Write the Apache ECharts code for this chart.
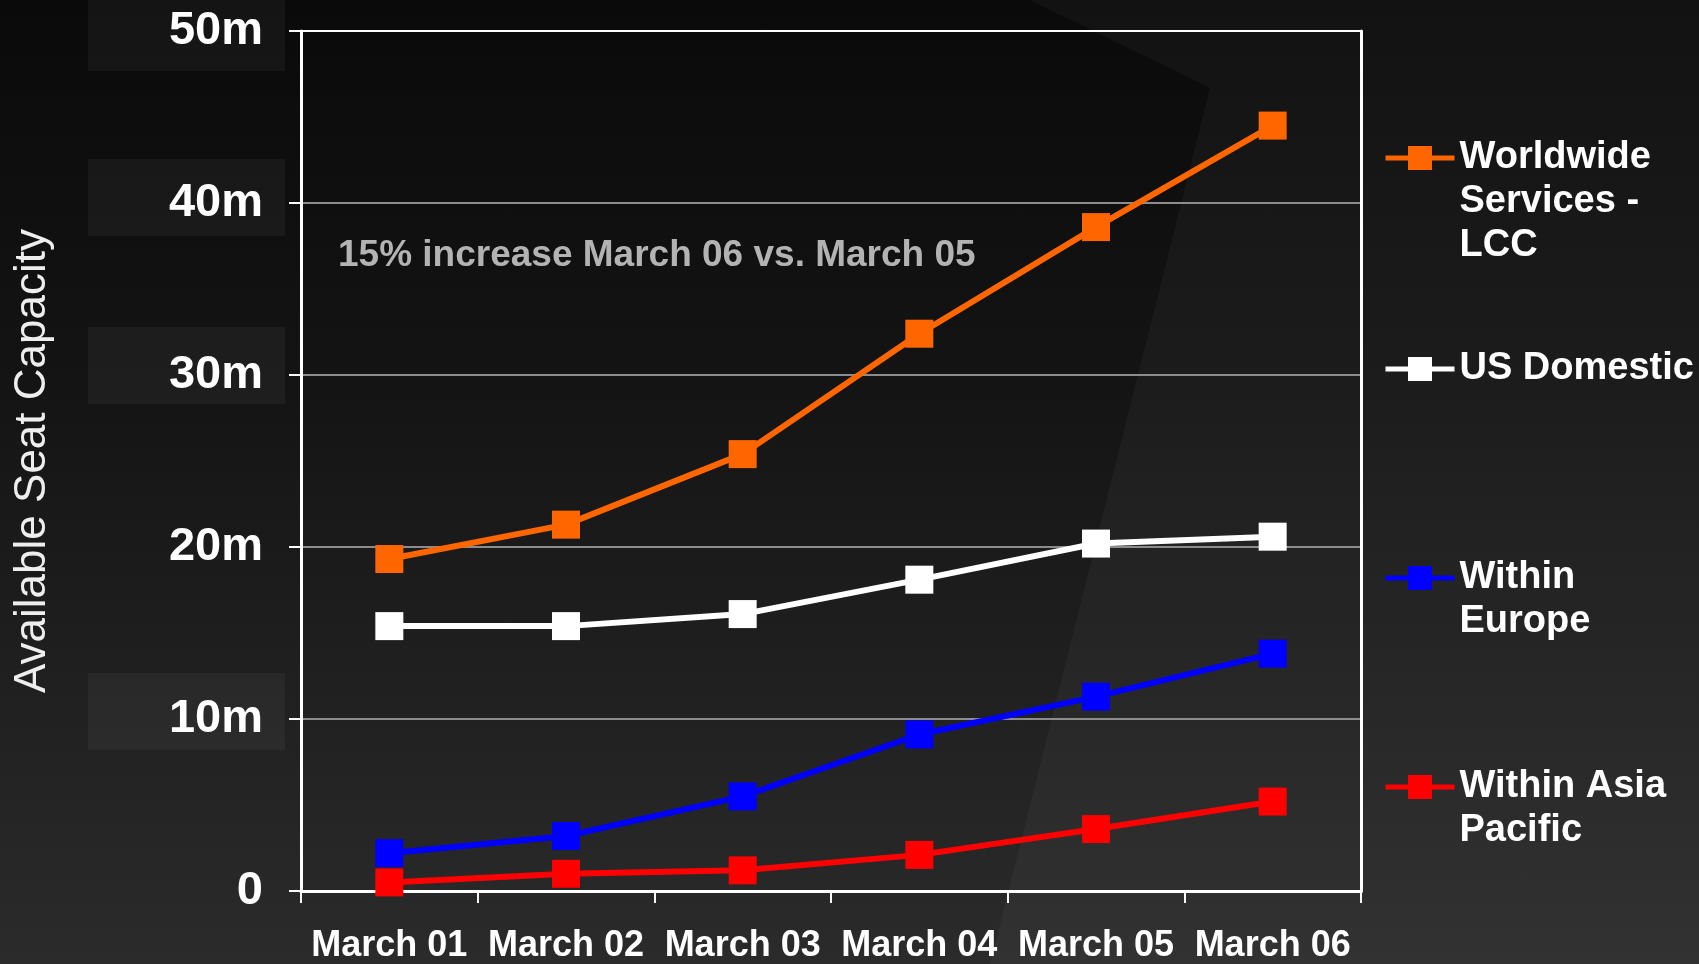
<!DOCTYPE html>
<html>
<head>
<meta charset="utf-8">
<script src="https://cdn.jsdelivr.net/npm/echarts@6/dist/echarts.min.js"></script>
<style>
html,body{margin:0;padding:0;width:1699px;height:964px;overflow:hidden;}
#bg{position:absolute;left:0;top:0;width:1699px;height:964px;background:linear-gradient(180deg,#0a0a0a 0%,#141414 40%,#2b2b2b 100%);}
#shape{position:absolute;left:0;top:0;width:1699px;height:964px;background:rgba(255,255,255,0.035);clip-path:polygon(1030px 0px,1210px 88px,990px 964px,1699px 964px,1699px 0px);}
.lb{position:absolute;left:88px;width:197px;background:rgba(255,255,255,0.045);}
#chart{position:absolute;left:0;top:0;width:1699px;height:964px;}
</style>
</head>
<body>
<div id="bg"></div>
<div id="shape"></div>
<div class="lb" style="top:0px;height:71px"></div>
<div class="lb" style="top:159px;height:77px"></div>
<div class="lb" style="top:327px;height:77px"></div>
<div class="lb" style="top:673px;height:77px"></div>
<div id="chart"></div>
<script>
const categories = ['March 01','March 02','March 03','March 04','March 05','March 06'];
const worldwideLCC = [19.3, 21.3, 25.4, 32.4, 38.6, 44.5];
const usDomestic = [15.4, 15.4, 16.1, 18.1, 20.2, 20.6];
const withinEurope = [2.2, 3.2, 5.5, 9.1, 11.3, 13.8];
const withinAsiaPacific = [0.5, 1.0, 1.2, 2.1, 3.6, 5.2];
const yTicks = [0, 10, 20, 30, 40, 50];
const seriesNames = ['Worldwide\nServices -\nLCC', 'US Domestic', 'Within\nEurope', 'Within Asia\nPacific'];
const annotation = '15% increase March 06 vs. March 05';

const FONT = '"Liberation Sans", Arial, sans-serif';
const colors = ['#FF6600', '#FFFFFF', '#0000FF', '#FF0000'];
const seriesData = [worldwideLCC, usDomestic, withinEurope, withinAsiaPacific];
const legendCenters = [158, 369, 578, 787];
const LH = 44;

const chart = echarts.init(document.getElementById('chart'), null, {renderer: 'canvas'});

const legends = seriesNames.map((name, i) => {
  const n = name.split('\n').length;
  const boxH = (2 * n - 1) * LH;
  return {
    data: [name],
    left: 1383,
    top: legendCenters[i] - Math.max(boxH, 30) / 2,
    itemWidth: 69,
    itemHeight: 30,
    itemGap: 0,
    padding: 0,
    selectedMode: false,
    lineStyle: {width: 5},
    formatter: nm => ' \n'.repeat(n - 1) + nm,
    textStyle: {
      color: '#FFFFFF',
      fontFamily: FONT,
      fontWeight: 'bold',
      fontSize: 38,
      lineHeight: LH
    }
  };
});

const option = {
  backgroundColor: 'transparent',
  animation: false,
  grid: {left: 301, right: 338, top: 31, bottom: 73, containLabel: false},
  legend: legends,
  xAxis: [{
    type: 'category',
    data: categories,
    boundaryGap: true,
    axisLine: {show: true, lineStyle: {color: '#FFFFFF', width: 3}},
    axisTick: {show: true, interval: 0, length: 12, lineStyle: {color: '#FFFFFF', width: 2}},
    axisLabel: {interval: 0, color: '#FFFFFF', fontFamily: FONT, fontWeight: 'bold', fontSize: 36, margin: 37},
    splitLine: {show: false}
  }, {
    type: 'category',
    data: categories,
    position: 'top',
    axisLine: {show: true, lineStyle: {color: '#FFFFFF', width: 3}},
    axisTick: {show: false},
    axisLabel: {show: false},
    splitLine: {show: false}
  }],
  yAxis: [{
    type: 'value',
    min: yTicks[0],
    max: yTicks[yTicks.length - 1],
    interval: 10,
    name: 'Available Seat Capacity',
    nameLocation: 'middle',
    nameRotate: 90,
    nameGap: 246,
    nameTextStyle: {color: '#EEEEEE', fontFamily: FONT, fontSize: 44},
    axisLine: {show: true, lineStyle: {color: '#FFFFFF', width: 3}},
    axisTick: {show: true, length: 12, lineStyle: {color: '#FFFFFF', width: 2}},
    axisLabel: {
      color: '#FFFFFF', fontFamily: FONT, fontWeight: 'bold', fontSize: 47, margin: 38,
      formatter: v => v === 0 ? '0' : v + 'm'
    },
    splitLine: {show: true, lineStyle: {color: ['#8c8c8c','#8c8c8c','#8c8c8c','#8c8c8c','#8c8c8c','#FFFFFF'], width: 2}}
  }, {
    type: 'value',
    min: yTicks[0],
    max: yTicks[yTicks.length - 1],
    interval: 10,
    position: 'right',
    axisLine: {show: true, lineStyle: {color: '#FFFFFF', width: 3}},
    axisTick: {show: false},
    axisLabel: {show: false},
    splitLine: {show: false}
  }],
  graphic: [{
    type: 'text',
    left: 338,
    top: 237,
    style: {text: annotation, fill: '#B3B3B3', font: 'bold 37px ' + FONT}
  }],
  series: seriesNames.map((name, i) => ({
    name: name,
    type: 'line',
    data: seriesData[i],
    symbol: 'rect',
    symbolSize: 28,
    lineStyle: {color: colors[i], width: 6},
    itemStyle: {color: colors[i]},
    z: 10 - i
  }))
};
chart.setOption(option);
</script>
</body>
</html>
